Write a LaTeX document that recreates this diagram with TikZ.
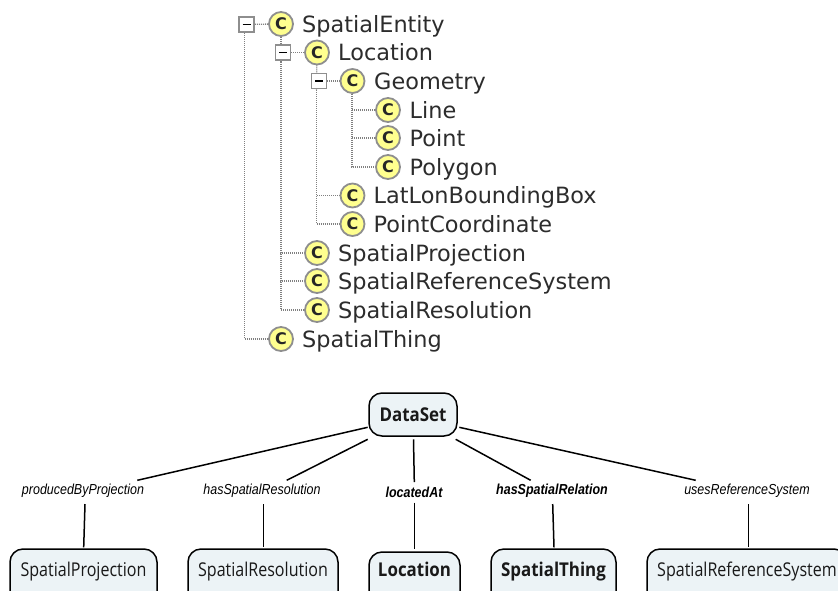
\documentclass[tikz,border=0pt]{standalone}
\usepackage{fontspec}
\setmainfont{DejaVu Sans}
\newfontfamily\boxfont[FakeStretch=0.845]{Open Sans}
\newfontfamily\boxfontb[FakeStretch=0.89]{Open Sans}
\newfontfamily\labelfont[FakeStretch=0.86]{Liberation Sans}
\newfontfamily\treefont{DejaVu Sans}
\definecolor{boxfill}{HTML}{ECF3F6}
\definecolor{iconfill}{HTML}{FFFF8F}
\definecolor{icongray}{HTML}{8E8E8E}
\definecolor{treegray}{HTML}{808080}
\definecolor{treetext}{HTML}{2C2C2C}
\pgfdeclarelayer{under}
\pgfsetlayers{under,main}
\tikzset{
  icon/.style={circle,draw=icongray,line width=1.8pt,fill=iconfill,minimum size=24pt,inner sep=0pt,
    font=\treefont\bfseries\fontsize{16}{16}\selectfont,text=black!85},
  expander/.style={rectangle,draw=icongray,line width=1.7pt,fill=white,minimum size=15pt,inner sep=0pt},
  treelabel/.style={anchor=base west,inner sep=0pt,text=treetext,font=\treefont\fontsize{22.4}{24}\selectfont},
  treeline/.style={draw=treegray,line width=1.3pt,dash pattern=on 1pt off 1pt},
  concept/.style={rectangle,rounded corners=13pt,draw=black,line width=1.5pt,fill=boxfill,inner sep=0pt,
    font=\boxfont\fontsize{19}{20}\selectfont,text=black!90,text height=13pt,text depth=19pt},
  conceptb/.style={concept,font=\boxfontb\bfseries\fontsize{19}{20}\selectfont},
  relation/.style={inner sep=0pt,font=\labelfont\itshape\fontsize{14.5}{16}\selectfont,text=black},
  relationb/.style={relation,font=\labelfont\itshape\bfseries\fontsize{14.5}{16}\selectfont},
  link/.style={draw=black,line width=1.5pt},
}
\newcommand{\minus}[1]{\draw[black,line width=1.5pt] ([xshift=-4pt]#1.center) -- ([xshift=4pt]#1.center);}
\begin{document}
\begin{tikzpicture}[x=1pt,y=-1pt]
\useasboundingbox (0,0) rectangle (838,590);
\clip (0,0) rectangle (838,590);
% icons
\foreach \n/\x/\y in {
 entity/281/24, location/317/52.5, geometry/352.5/81, line/388/110, point/388/138, polygon/388/167,
 latlon/352.5/195.5, pcoord/352.5/224, sproj/317/253, srs/317/281, sres/317/310, sthing/281/339}{
  \node[icon] (\n) at (\x,\y) {C};
}
% expanders
\node[expander] (xentity) at (246.7,24.3) {};
\node[expander] (xlocation) at (283,52.5) {};
\node[expander] (xgeometry) at (319,81) {};
\minus{xentity}\minus{xlocation}\minus{xgeometry}
% free upper ends of the vertical tree lines
\coordinate (v0) at (244.5,33);
\coordinate (v1) at (281,62);
\coordinate (v2) at (316.5,90);
\coordinate (v3) at (352,94);
\begin{pgfonlayer}{under}
\draw[treeline] (xentity) -- (entity);
\draw[treeline] (xlocation) -- (location);
\draw[treeline] (xgeometry) -- (geometry);
\draw[treeline] (entity) -- (v1);
\draw[treeline] (location) -- (v2);
\draw[treeline] (v0) |- (sthing);
\draw[treeline] (v1) |- (sres);
\draw[treeline] (v1) |- (srs);
\draw[treeline] (v1) |- (sproj);
\draw[treeline] (v2) |- (pcoord);
\draw[treeline] (v2) |- (latlon);
\draw[treeline] (v3) |- (polygon);
\draw[treeline] (v3) |- (point);
\draw[treeline] (v3) |- (line);
\end{pgfonlayer}
% tree labels
\node[treelabel] (tentity) at (302,32) {SpatialEntity};
\node[treelabel] (tlocation) at (338,60.5) {Location};
\node[treelabel] (tgeometry) at (374,89) {Geometry};
\node[treelabel] (tline) at (409.5,118) {Line};
\node[treelabel] (tpoint) at (409.5,146) {Point};
\node[treelabel] (tpolygon) at (409.5,175) {Polygon};
\node[treelabel] (tlatlon) at (373.5,203.5) {LatLonBoundingBox};
\node[treelabel] (tpcoord) at (373.5,232) {PointCoordinate};
\node[treelabel] (tsproj) at (338,261) {SpatialProjection};
\node[treelabel] (tsrs) at (338,289) {SpatialReferenceSystem};
\node[treelabel] (tsres) at (338,318) {SpatialResolution};
\node[treelabel] (tsthing) at (302,347) {SpatialThing};
% concept map
\node[conceptb,minimum width=88pt,minimum height=43pt,text height=14pt,text depth=0pt] (ds) at (413,414.5) {DataSet};
\node[concept,minimum width=147pt,minimum height=60pt] (bproj) at (83.5,579) {SpatialProjection};
\node[concept,minimum width=150pt,minimum height=60pt] (bres) at (263,579) {SpatialResolution};
\node[conceptb,minimum width=91pt,minimum height=58pt,text depth=21.6pt] (bloc) at (414.5,581) {Location};
\node[conceptb,minimum width=125pt,minimum height=60pt] (bthing) at (553.5,579) {SpatialThing};
\node[concept,minimum width=200pt,minimum height=60pt] (bsrs) at (747,579) {SpatialReferenceSystem};
\node[relation] (lproj) at (83,491) {producedByProjection};
\node[relation] (lres) at (262,491) {hasSpatialResolution};
\node[relationb] (lloc) at (414,492) {locatedAt};
\node[relationb] (lthing) at (552,491) {hasSpatialRelation};
\node[relation] (lsrs) at (747,491) {usesReferenceSystem};
% connector ends, which stop short of the nodes
\coordinate (a1) at (367.7,427.3); \coordinate (a2) at (137.3,480.3);
\coordinate (b1) at (367.7,439.3); \coordinate (b2) at (286.7,480.3);
\coordinate (c1) at (413.5,439.3); \coordinate (c2) at (414.3,482);
\coordinate (d1) at (455.7,439.3); \coordinate (d2) at (530.7,480.3);
\coordinate (e1) at (459.3,427.3); \coordinate (e2) at (695.7,480.3);
\coordinate (a3) at (85,504); \coordinate (a4) at (83.7,547.3);
\coordinate (b3) at (263.7,504); \coordinate (b4) at (263.7,547.3);
\coordinate (c3) at (414.3,502.7); \coordinate (c4) at (414.3,549.3);
\coordinate (d3) at (552.7,504); \coordinate (d4) at (554,547.3);
\coordinate (e3) at (748.7,504); \coordinate (e4) at (748.7,547.3);
\draw[link] (a1) -- (a2); \draw[link] (a3) -- (a4);
\draw[link] (b1) -- (b2); \draw[link] (b3) -- (b4);
\draw[link] (c1) -- (c2); \draw[link] (c3) -- (c4);
\draw[link] (d1) -- (d2); \draw[link] (d3) -- (d4);
\draw[link] (e1) -- (e2); \draw[link] (e3) -- (e4);
\end{tikzpicture}
\end{document}
